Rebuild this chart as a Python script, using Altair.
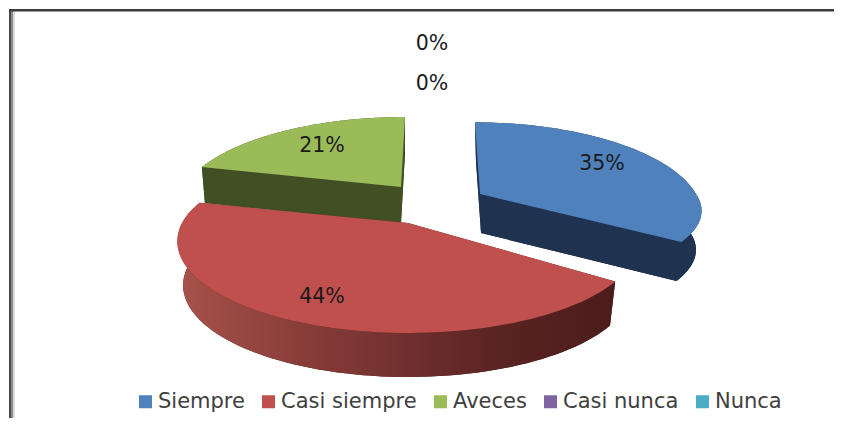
import math
import altair as alt
import pandas as pd

categories = ["Siempre", "Casi siempre", "Aveces", "Casi nunca", "Nunca"]
values = [35, 44, 21, 0, 0]
colors = ["#4f81bd", "#c0504d", "#9bbb59", "#8064a2", "#4bacc6"]
wall_colors = ["#1f3350", "#4f1f1e", "#404f24"]
label_texts = ["35%", "44%", "21%", "0%", "0%"]
label_x = [602, 322, 322, 432, 432]
label_y = [164, 297, 146, 84, 44]

W, H = 826, 410

# Perspective look of each exploded slice of the tilted pie
look = {
    "Siempre": dict(cx=480, cy=194, a=216, b_up=86, b_down=72, k=0.2, lean=-0.07, depth=39, dx=1, shrink=0.97),
    "Casi siempre": dict(cx=408, cy=223, a=226, b_up=85, b_down=88, k=0.2, lean=0.0, depth=44, dx=0, shrink=0.975),
    "Aveces": dict(cx=401, cy=187, a=217, b_up=84, b_down=84, k=0.2, lean=0.057, depth=36, dx=0, shrink=0.985),
}


def project(p, theta, lower=False):
    w = 1 + p["k"] * math.cos(theta)
    c = math.cos(theta)
    up = (p["b_up"] if c > 0 else p["b_down"]) * c / w
    across = p["a"] * math.sin(theta) / w
    if lower:
        return (p["cx"] + p["dx"] + p["shrink"] * across + p["lean"] * up, p["cy"] + p["depth"] - up)
    return (p["cx"] + across + p["lean"] * up, p["cy"] - up)


def arc(p, t0, t1, lower=False, n=80):
    return [project(p, t0 + (t1 - t0) * i / n, lower) for i in range(n + 1)]


def frame(pts):
    pts = pts + [pts[0]]
    return pd.DataFrame({"x": [q[0] for q in pts], "y": [q[1] for q in pts], "i": range(len(pts))})


X = alt.X("x:Q", scale=alt.Scale(domain=[8, 8 + W], nice=False, zero=False), axis=None)
Y = alt.Y("y:Q", scale=alt.Scale(domain=[8 + H, 8], nice=False, zero=False), axis=None)


def shape(pts, fill):
    return alt.Chart(frame(pts)).mark_line(fill=fill, stroke=None, strokeWidth=0, interpolate="linear").encode(
        x=X, y=Y, order="i:Q"
    )


total = sum(values)
spans = {}
acc = 0.0
for name, v in zip(categories, values):
    spans[name] = (acc / total * 2 * math.pi, (acc + v) / total * 2 * math.pi)
    acc += v

red_grad = alt.Gradient(
    gradient="linear", x1=0, x2=1, y1=0, y2=0,
    stops=[
        alt.GradientStop(color="#a8524b", offset=0),
        alt.GradientStop(color="#8a3e3a", offset=0.27),
        alt.GradientStop(color="#733130", offset=0.5),
        alt.GradientStop(color="#5a2422", offset=0.73),
        alt.GradientStop(color="#4a1c1b", offset=1),
    ],
)


def apex(p, lower=False):
    return (p["cx"] + (p["dx"] if lower else 0), p["cy"] + (p["depth"] if lower else 0))


def slice_layers(name, color, wall, band_fill=None):
    p = look[name]
    t0, t1 = spans[name]
    band_fill = band_fill or wall
    return [
        shape([apex(p, True)] + arc(p, t0, t1, True), wall),
        shape([apex(p), project(p, t0), project(p, t0, True), apex(p, True)], wall),
        shape([apex(p), project(p, t1), project(p, t1, True), apex(p, True)], wall),
        shape(arc(p, t0, t1) + arc(p, t0, t1, True)[::-1], band_fill),
        shape([apex(p)] + arc(p, t0, t1), color),
    ]


layers = []
layers += slice_layers("Siempre", colors[0], wall_colors[0])
layers += slice_layers("Aveces", colors[2], wall_colors[2])
layers += slice_layers("Casi siempre", colors[1], wall_colors[1], red_grad)

labels = alt.Chart(pd.DataFrame({"t": label_texts, "x": label_x, "y": label_y})).mark_text(
    font="DejaVu Sans", fontSize=20.5, color="#1a1a1a", baseline="middle", align="center"
).encode(x=X, y=Y, text="t:N")

legend_layer = alt.Chart(pd.DataFrame({"c": categories, "x": label_x, "y": label_y})).mark_square(size=0).encode(
    x=X, y=Y,
    color=alt.Color(
        "c:N",
        scale=alt.Scale(domain=categories, range=colors),
        legend=alt.Legend(
            title=None, orient="none", legendX=127, legendY=383, direction="horizontal", columns=5,
            symbolType="square", symbolSize=169, symbolOpacity=1, symbolStrokeWidth=0,
            labelFont="DejaVu Sans", labelFontSize=21, labelColor="#404040", labelOffset=2,
            columnPadding=13, labelLimit=300,
        ),
    ),
)

left_bands = [
    alt.Chart(pd.DataFrame({"k": [0]})).mark_rule(color=c, strokeWidth=2).encode(
        x=alt.value(px), y=alt.value(1), y2=alt.value(H)
    )
    for px, c in [(2, "#4a4a4a"), (4, "#8c8c8c"), (6, "#dcdcdc")]
]
top_line = alt.Chart(pd.DataFrame({"k": [0]})).mark_rule(color="#3c3c3c", strokeWidth=2.5).encode(
    x=alt.value(1), x2=alt.value(W), y=alt.value(2.2)
)

chart = alt.layer(*left_bands, top_line, *layers, labels, legend_layer).properties(
    width=W, height=H, padding=0, background="white", autosize=alt.AutoSizeParams(type="none")
).configure_view(stroke=None)

chart.save("out.html", embed_options={"renderer": "svg", "actions": False})
